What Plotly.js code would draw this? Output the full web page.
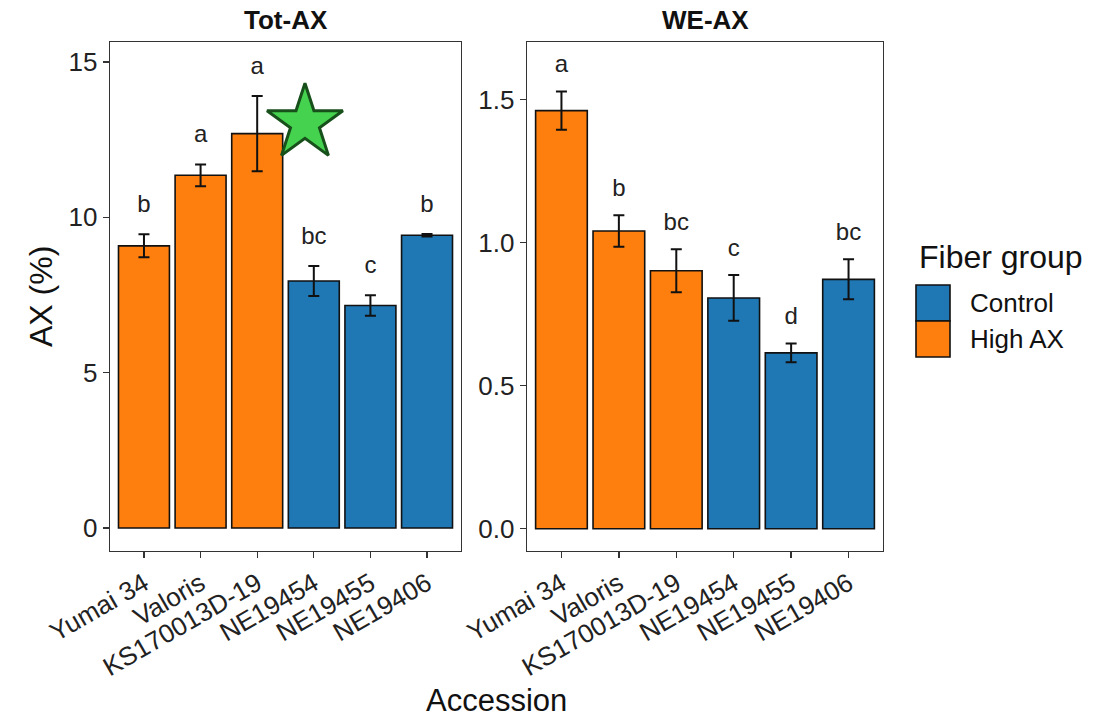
<!DOCTYPE html>
<html>
<head>
<meta charset="utf-8">
<script src="https://cdn.plot.ly/plotly-3.0.1.min.js"></script>
<style>html,body{margin:0;padding:0;background:#fff;}#chart{width:1104px;height:719px;}</style>
</head>
<body>
<div id="chart"></div>
<script>
// ---- data ----
var accessions = ["Yumai 34", "Valoris", "KS170013D-19", "NE19454", "NE19455", "NE19406"];
var fiberGroup = ["High AX", "High AX", "High AX", "Control", "Control", "Control"];

var totMean = [9.08, 11.35, 12.69, 7.95, 7.16, 9.42];
var totSE   = [0.37, 0.35, 1.21, 0.48, 0.33, 0.04];
var totLetters = ["b", "a", "a", "bc", "c", "b"];

var weMean = [1.462, 1.041, 0.902, 0.807, 0.615, 0.872];
var weSE   = [0.067, 0.055, 0.075, 0.080, 0.033, 0.070];
var weLetters = ["a", "b", "bc", "c", "d", "bc"];

var groups = ["Control", "High AX"];
var groupColors = {"Control": "#1f77b4", "High AX": "#ff7f0e"};

var FONT = "Liberation Sans, Arial, sans-serif";

function barTrace(means, se, xa, ya) {
  return {
    type: "bar", x: accessions, y: means, xaxis: xa, yaxis: ya, width: 0.9,
    marker: {color: fiberGroup.map(function(g){return groupColors[g];}), line: {color: "#111", width: 1.6}},
    error_y: {type: "data", array: se, visible: true, color: "#111", thickness: 2, width: 5.5},
    showlegend: false, hoverinfo: "x+y"
  };
}
function letterTrace(means, se, letters, offset, xa, ya) {
  return {
    type: "scatter", mode: "text", x: accessions,
    y: means.map(function(m, i){ return m + se[i] + offset; }),
    text: letters, textposition: "middle center", xaxis: xa, yaxis: ya,
    textfont: {family: FONT, size: 24, color: "#222"}, showlegend: false, hoverinfo: "skip"
  };
}

var traces = [
  barTrace(totMean, totSE, "x", "y"),
  letterTrace(totMean, totSE, totLetters, 0.9, "x", "y"),
  barTrace(weMean, weSE, "x2", "y2"),
  letterTrace(weMean, weSE, weLetters, 0.088, "x2", "y2"),
  {
    type: "scatter", mode: "markers", x: [2.844], y: [13.03], xaxis: "x3", yaxis: "y",
    marker: {symbol: "star", size: 57, color: "#44d24f", line: {color: "#17501a", width: 3}},
    showlegend: false, hoverinfo: "skip"
  }
];

var yDom = [1 - 551/719, 1 - 42/719];
function xAxis(dom) {
  return {
    domain: dom, type: "category", range: [-0.6, 5.6], showline: true, mirror: true,
    linecolor: "#333", linewidth: 1.3, ticks: "outside", ticklen: 6, tickwidth: 1.3, tickcolor: "#333",
    tickangle: -30, tickfont: {family: FONT, size: 26, color: "#222"}, showgrid: false, zeroline: false,
    fixedrange: true
  };
}
function yAxis(range, dtick, fmt, anchor) {
  return {
    domain: yDom, range: range, anchor: anchor, showline: true, mirror: true,
    linecolor: "#333", linewidth: 1.3, ticks: "outside", ticklen: 6, tickwidth: 1.3, tickcolor: "#333",
    dtick: dtick, tick0: 0, tickformat: fmt, tickfont: {family: FONT, size: 26, color: "#222"},
    showgrid: false, zeroline: false, fixedrange: true
  };
}

var shapes = [];
var annotations = [
  {text: "<b>Tot-AX</b>", x: (110+461)/2/1104, y: 1 - 20/719, xref: "paper", yref: "paper",
   showarrow: false, font: {family: FONT, size: 26, color: "#111"}, xanchor: "center", yanchor: "middle"},
  {text: "<b>WE-AX</b>", x: (527+883)/2/1104, y: 1 - 20/719, xref: "paper", yref: "paper",
   showarrow: false, font: {family: FONT, size: 26, color: "#111"}, xanchor: "center", yanchor: "middle"},
  {text: "Accession", x: 496/1104, y: 1 - 700/719, xref: "paper", yref: "paper",
   showarrow: false, font: {family: FONT, size: 31, color: "#111"}, xanchor: "center", yanchor: "middle"},
  {text: "AX (%)", x: 41/1104, y: 1 - 297/719, xref: "paper", yref: "paper", textangle: -90,
   showarrow: false, font: {family: FONT, size: 32, color: "#111"}, xanchor: "center", yanchor: "middle"},
  {text: "Fiber group", x: 917/1104, y: 1 - 257/719, xref: "paper", yref: "paper",
   showarrow: false, font: {family: FONT, size: 32, color: "#111"}, xanchor: "left", yanchor: "middle"}
];
groups.forEach(function(g, i) {
  var top = 285 + i*36;
  shapes.push({type: "rect", xref: "paper", yref: "paper",
    x0: 916/1104, x1: 950/1104, y0: 1 - (top+36)/719, y1: 1 - top/719,
    fillcolor: groupColors[g], line: {color: "#111", width: 1.6}});
  annotations.push({text: g, x: 968/1104, y: 1 - (top+18)/719, xref: "paper", yref: "paper",
    showarrow: false, font: {family: FONT, size: 26, color: "#111"}, xanchor: "left", yanchor: "middle"});
});

var layout = {
  width: 1104, height: 719, margin: {l: 0, r: 0, t: 0, b: 0},
  paper_bgcolor: "#fff", plot_bgcolor: "#fff", showlegend: false,
  xaxis: Object.assign(xAxis([110/1104, 461/1104]), {anchor: "y"}),
  xaxis2: Object.assign(xAxis([527/1104, 883/1104]), {anchor: "y2"}),
  xaxis3: {overlaying: "x", type: "linear", range: [-0.6, 5.6], visible: false, anchor: "y", fixedrange: true},
  yaxis: yAxis([-0.74, 15.64], 5, "d", "x"),
  yaxis2: yAxis([-0.078, 1.702], 0.5, ".1f", "x2"),
  shapes: shapes, annotations: annotations, bargap: 0.1
};

Plotly.newPlot("chart", traces, layout, {displayModeBar: false, staticPlot: true});
</script>
</body>
</html>
